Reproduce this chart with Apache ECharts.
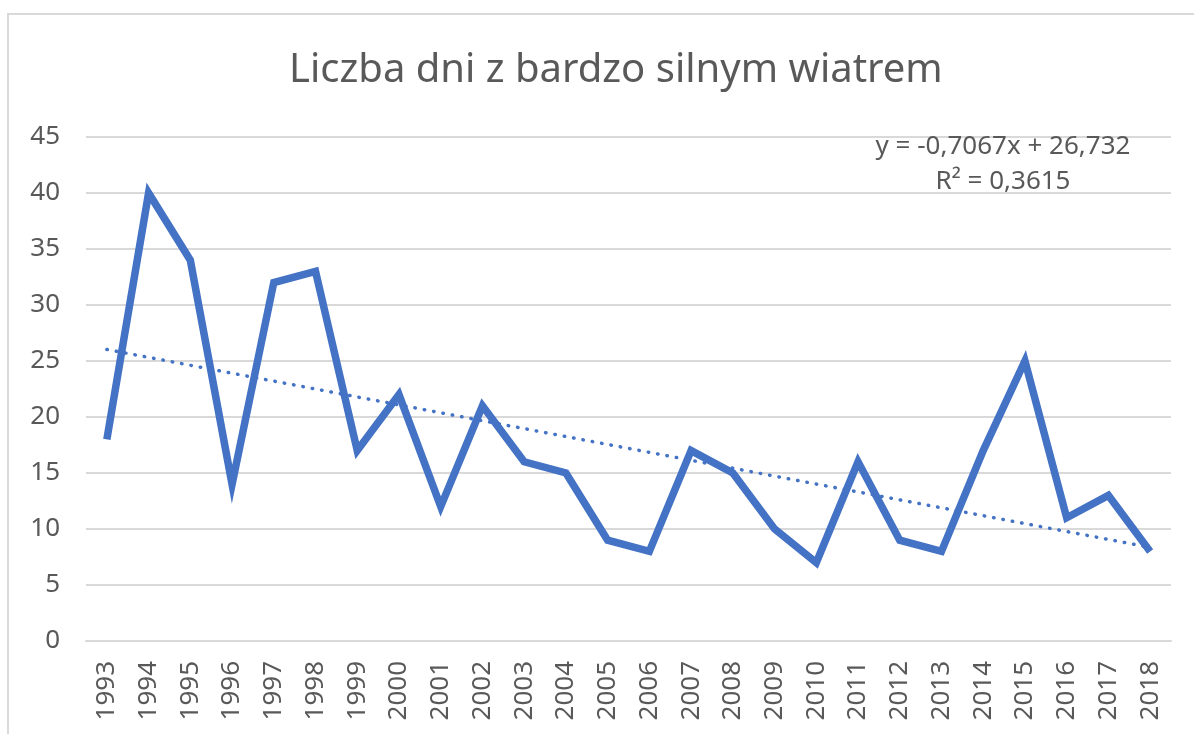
<!DOCTYPE html>
<html>
<head>
<meta charset="utf-8">
<script src="https://cdn.jsdelivr.net/npm/echarts@6/dist/echarts.min.js"></script>
<style>html,body{margin:0;padding:0;background:#fff;}#c{width:1194px;height:734px;}</style>
</head>
<body>
<div id="c"></div>
<script>
var years = ['1993','1994','1995','1996','1997','1998','1999','2000','2001','2002','2003','2004','2005','2006','2007','2008','2009','2010','2011','2012','2013','2014','2015','2016','2017','2018'];
var days = [18,40,34,14,32,33,17,22,12,21,16,15,9,8,17,15,10,7,16,9,8,17,25,11,13,8];
var trendPoints = [['1993',26.03],['2018',8.36]];
var equationLines = ['y = -0,7067x + 26,732', 'R² = 0,3615'];
var titleText = 'Liczba dni z bardzo silnym wiatrem';

var chart = echarts.init(document.getElementById('c'));
var font = 'Noto Sans';
chart.setOption({
  animation: false,
  backgroundColor: '#fff',
  title: {
    text: titleText, left: 284, top: 46,
    textStyle: {fontFamily: font, fontSize: 40, fontWeight: 'normal', color: '#595959'}
  },
  grid: {left: 86, right: 23, top: 137, bottom: 93, containLabel: false},
  xAxis: {
    type: 'category', data: years, boundaryGap: true,
    axisLine: {show: true, lineStyle: {color: '#d9d9d9', width: 2}},
    axisTick: {show: false},
    axisLabel: {rotate: 90, interval: 0, fontFamily: font, fontSize: 26, color: '#595959', margin: 20}
  },
  yAxis: {
    type: 'value', min: 0, max: 45, interval: 5,
    axisLine: {show: false}, axisTick: {show: false},
    splitLine: {lineStyle: {color: '#d9d9d9', width: 2}},
    axisLabel: {fontFamily: font, fontSize: 26, color: '#595959', margin: 26}
  },
  graphic: [
    {type: 'rect', shape: {x: 8, y: 14, width: 1300, height: 900}, style: {fill: 'none', stroke: '#d9d9d9', lineWidth: 2}, z: -1},
    {type: 'text', x: 1003, y: 147, style: {text: equationLines[0], fontFamily: font, fontSize: 26, fill: '#595959', align: 'center', verticalAlign: 'middle'}, z: 100},
    {type: 'text', x: 1003, y: 182, style: {text: equationLines[1], fontFamily: font, fontSize: 26, fill: '#595959', align: 'center', verticalAlign: 'middle'}, z: 100}
  ],
  series: [
    {type: 'line', data: days, symbol: 'none', lineStyle: {color: '#4472C4', width: 7.5, join: 'miter'}, z: 2},
    {type: 'line', data: trendPoints, symbol: 'none', lineStyle: {color: '#4472C4', width: 3.5, type: [0.5, 9], cap: 'round'}, z: 3}
  ]
});
</script>
</body>
</html>
